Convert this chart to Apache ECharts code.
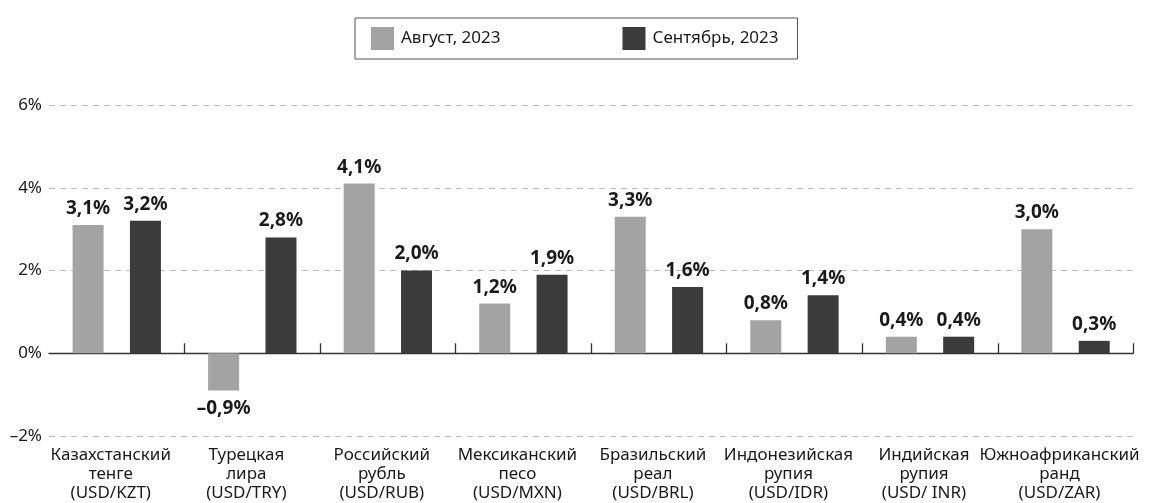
<!DOCTYPE html>
<html>
<head>
<meta charset="utf-8">
<script src="https://cdn.jsdelivr.net/npm/echarts@6/dist/echarts.min.js"></script>
<style>
    html, body { margin: 0; padding: 0; background: #fff; }
    #chart { width: 1154px; height: 503px; }
</style>
</head>
<body>
<div id="chart"></div>
<script>
// валюты
var categories = [
    'Казахстанский\nтенге\n(USD/KZT)',
    'Турецкая\nлира\n(USD/TRY)',
    'Российский\nрубль\n(USD/RUB)',
    'Мексиканский\nпесо\n(USD/MXN)',
    'Бразильский\nреал\n(USD/BRL)',
    'Индонезийская\nрупия\n(USD/IDR)',
    'Индийская\nрупия\n(USD/ INR)',
    'Южноафриканский\nранд\n(USD/ZAR)'
];
var seriesNames = ['Август, 2023', 'Сентябрь, 2023'];
var augValues = [3.1, -0.9, 4.1, 1.2, 3.3, 0.8, 0.4, 3.0];
var sepValues = [3.2, 2.8, 2.0, 1.9, 1.6, 1.4, 0.4, 0.3];
var yMin = -2, yMax = 6, yStep = 2;

var FONT = '"Noto Sans", sans-serif';
var TEXT = '#1a1a1a';

function pct(v) {
    var s = Math.abs(v).toFixed(1).replace('.', ',') + '%';
    return v < 0 ? '\u2013' + s : s;
}

// отрицательные подписи ставим под столбиком
function withLabels(arr) {
    return arr.map(function (v) {
        return v < 0 ? { value: v, label: { position: 'bottom', distance: 9 } } : v;
    });
}

(function () {
    let myEchart = echarts.init(document.getElementById('chart'));
    let valueLabel = {
        show: true,
        position: 'top',
        distance: 7,
        fontFamily: FONT,
        fontWeight: 'bold',
        fontSize: 19,
        color: TEXT,
        formatter: function (p) { return pct(p.value); }
    };
    let option = {
        animation: false,
        legend: {
            data: seriesNames,
            icon: 'rect',
            left: 355,
            top: 18,
            padding: [9, 19, 9, 16],
            borderColor: '#555',
            borderWidth: 1,
            itemWidth: 23,
            itemHeight: 23,
            itemGap: 122,
            textStyle: { fontFamily: FONT, fontSize: 17, color: TEXT, padding: [0, 0, 0, 2] }
        },
        grid: { left: 49, right: 11, top: 105, bottom: 66 },
        xAxis: [
            {
                // подписи категорий внизу
                type: 'category',
                data: categories,
                position: 'bottom',
                axisLine: { show: false, onZero: false },
                axisTick: { show: false },
                axisLabel: {
                    margin: 10,
                    fontFamily: FONT,
                    fontSize: 17,
                    lineHeight: 19,
                    color: TEXT,
                    padding: [0, 12, 0, 0],
                    interval: 0
                }
            },
            {
                // линия нуля с рисками между группами
                type: 'category',
                data: categories,
                position: 'top',
                axisLine: { onZero: true, lineStyle: { color: '#333', width: 1.3 } },
                axisTick: {
                    show: true,
                    inside: false,
                    length: 10,
                    interval: function (i) { return i > 0; },
                    lineStyle: { color: '#333', width: 1.3 }
                },
                axisLabel: { show: true, formatter: function () { return ''; } }
            }
        ],
        yAxis: {
            type: 'value',
            min: yMin,
            max: yMax,
            interval: yStep,
            axisLine: { show: false },
            axisTick: { show: false },
            axisLabel: {
                margin: 7,
                fontFamily: FONT,
                fontSize: 17,
                color: TEXT,
                formatter: function (v) { return (v < 0 ? '\u2013' + Math.abs(v) : v) + '%'; }
            },
            splitLine: {
                lineStyle: { color: '#bdbdbd', type: [6, 5], width: 1 }
            }
        },
        series: [
            {
                name: seriesNames[0],
                type: 'bar',
                xAxisIndex: 0,
                data: withLabels(augValues),
                barWidth: 31,
                barGap: '85%',
                itemStyle: { color: '#a3a3a3' },
                label: valueLabel
            },
            {
                name: seriesNames[1],
                type: 'bar',
                xAxisIndex: 0,
                data: withLabels(sepValues),
                barWidth: 31,
                barGap: '85%',
                itemStyle: { color: '#3b3b3b' },
                label: valueLabel
            }
        ]
    };
    myEchart.setOption(option);
})();
</script>
</body>
</html>
